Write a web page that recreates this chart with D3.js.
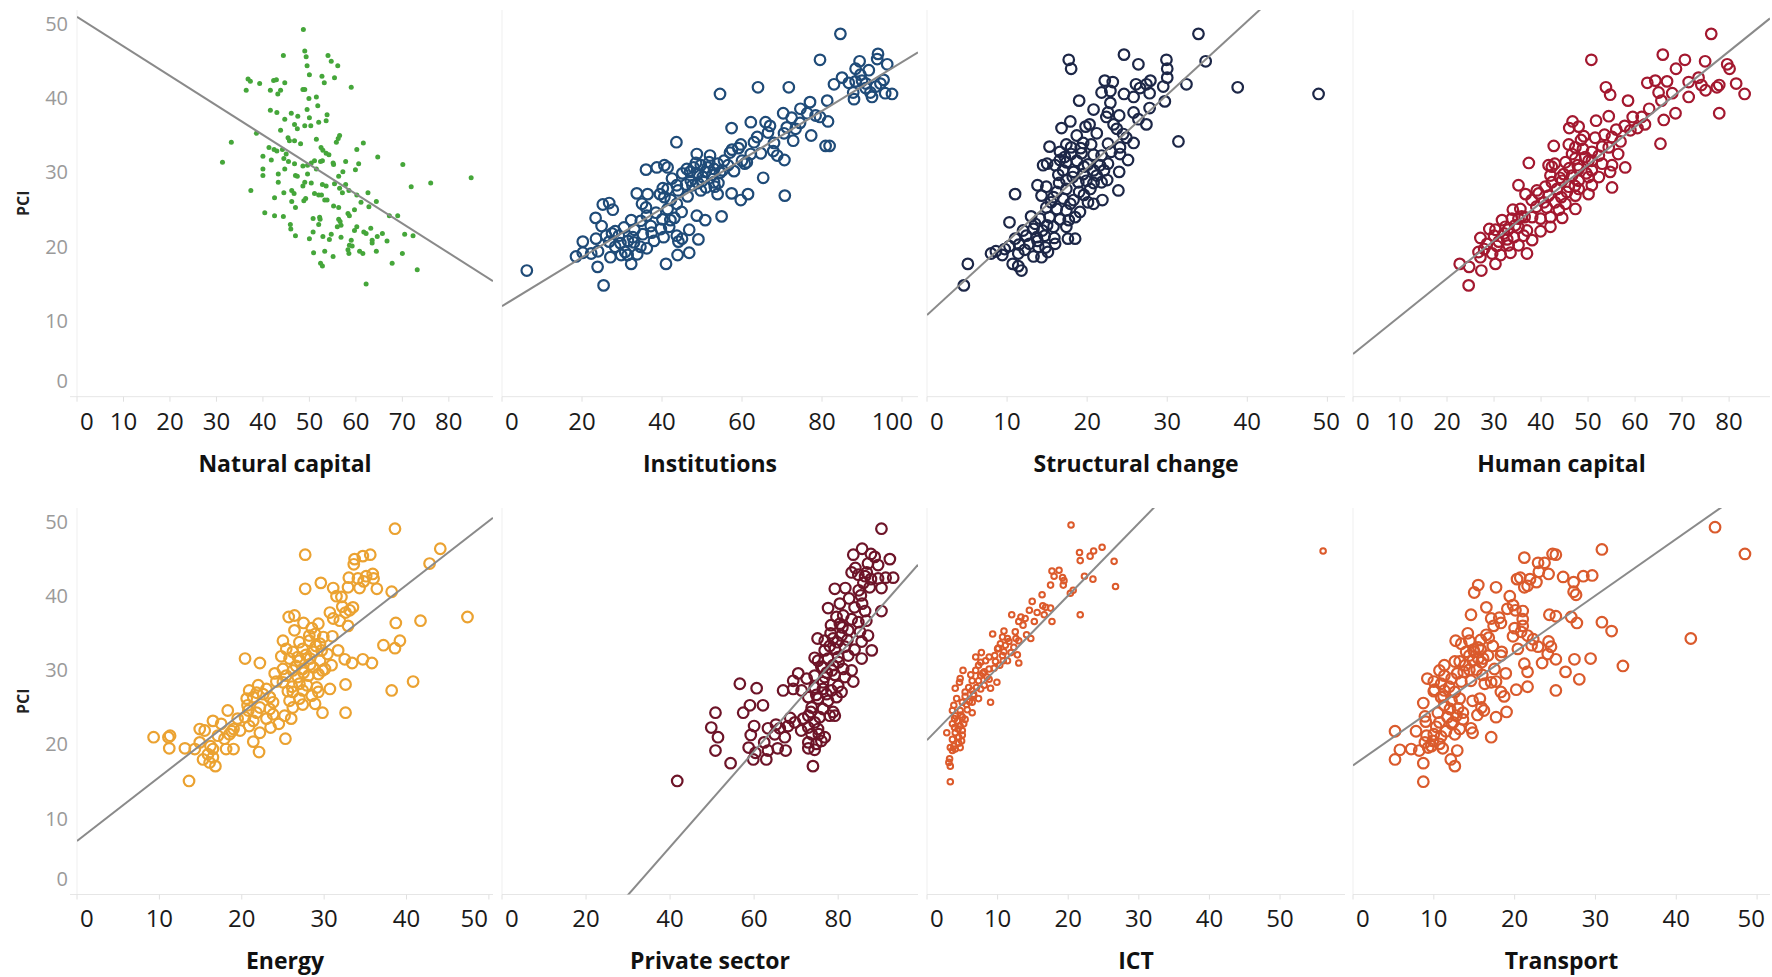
<!DOCTYPE html>
<html lang="en">
<head>
<meta charset="UTF-8">
<title>PCI vs pillars</title>
<style>
    body { margin: 0; background: #fff; }
    svg text { font-family: "Open Sans", "Noto Sans", sans-serif; }
</style>
<script src="https://d3js.org/d3.v7.min.js"></script>
</head>
<body>
<div id="chart"></div>
<script>
// ---- data (x = pillar score, y = PCI) ----
const panelNames = ["Natural capital", "Institutions", "Structural change", "Human capital",
                    "Energy", "Private sector", "ICT", "Transport"];
const xMax = [89.5, 104, 52.2, 88.7, 50.5, 99, 59.2, 51.6];
const xTicks = [
    [0, 10, 20, 30, 40, 50, 60, 70, 80],
    [0, 20, 40, 60, 80, 100],
    [0, 10, 20, 30, 40, 50],
    [0, 10, 20, 30, 40, 50, 60, 70, 80],
    [0, 10, 20, 30, 40, 50],
    [0, 20, 40, 60, 80],
    [0, 10, 20, 30, 40, 50],
    [0, 10, 20, 30, 40, 50]
];
const yTicks = [0, 10, 20, 30, 40, 50];
const trendSlope = [-0.398, 0.329, 0.99, 0.51, 0.863, 0.645, 0.975, 0.763];
const trendIntercept = [51.2, 12.2, 11.0, 5.75, 7.2, -19.4, 20.8, 17.4];

const naturalCapital = [[48.7,49.5],[49.0,46.6],[49.3,45.8],[44.4,46.0],[54.0,46.0],[54.7,45.2],[56.1,44.6],[49.5,44.6],[50.0,43.4],[52.7,43.2],[55.4,43.0],[59.0,41.7],[53.2,42.3],[36.8,42.8],[37.3,42.5],[39.3,42.2],[42.3,42.6],[42.9,42.7],[44.7,42.3],[36.4,41.3],[41.6,41.3],[43.8,41.3],[43.2,40.8],[48.6,41.4],[49.0,41.4],[51.5,40.4],[49.9,40.2],[51.8,39.2],[41.6,38.6],[43.0,38.3],[46.1,38.2],[47.5,37.8],[49.5,38.7],[50.0,37.6],[53.8,38.0],[53.6,37.2],[52.0,37.0],[44.7,37.4],[46.8,36.7],[47.4,36.1],[49.0,36.5],[50.3,36.5],[38.6,35.5],[43.8,35.9],[56.5,35.2],[56.2,34.8],[33.2,34.3],[45.4,34.9],[45.7,34.5],[46.8,34.5],[48.1,34.1],[51.5,34.7],[55.8,34.3],[61.6,34.2],[41.3,33.6],[42.4,33.3],[43.0,33.1],[44.2,33.3],[52.5,33.6],[52.9,33.2],[53.6,32.8],[54.2,32.6],[60.2,33.3],[40.0,32.4],[45.0,32.7],[64.7,32.3],[31.3,31.6],[41.8,31.9],[44.5,32.1],[45.5,31.7],[46.8,31.4],[50.4,31.5],[51.1,31.8],[52.4,31.7],[52.8,31.8],[55.1,31.5],[55.2,31.3],[57.8,31.7],[60.6,31.4],[70.1,31.3],[40.0,30.7],[44.7,30.7],[48.6,31.1],[49.6,31.2],[51.5,30.7],[57.2,30.3],[59.9,30.6],[40.0,29.8],[43.3,30.0],[47.0,29.8],[47.4,29.7],[49.6,30.0],[56.3,29.7],[84.8,29.5],[49.0,28.9],[43.3,28.9],[50.4,28.8],[48.6,28.4],[52.8,28.6],[53.6,28.4],[55.4,28.7],[57.8,28.6],[76.1,28.8],[71.9,28.3],[56.5,28.1],[58.5,27.8],[37.4,27.8],[44.5,27.5],[46.2,27.8],[46.7,27.4],[51.1,27.4],[52.0,27.2],[52.6,27.2],[57.1,27.5],[60.2,27.2],[62.6,27.5],[49.2,26.7],[53.3,26.5],[53.8,26.5],[48.8,26.4],[42.5,26.8],[46.2,26.3],[61.1,26.2],[64.4,26.3],[55.2,25.7],[56.3,25.5],[47.0,25.5],[62.8,25.6],[59.7,25.2],[40.4,24.8],[42.5,24.4],[44.4,24.3],[58.3,24.7],[58.6,24.4],[67.2,24.4],[69.0,24.4],[52.2,24.2],[52.3,23.9],[56.3,23.9],[56.6,23.6],[50.8,24.0],[52.0,23.2],[45.9,23.2],[46.0,22.6],[56.0,22.9],[56.8,23.1],[60.2,22.9],[63.2,22.7],[61.7,22.2],[59.7,22.4],[50.8,22.2],[62.2,22.0],[65.7,22.0],[70.5,21.9],[72.3,21.7],[47.0,21.7],[54.7,21.9],[52.9,21.6],[56.8,21.5],[64.6,21.6],[50.0,21.3],[54.3,21.2],[63.5,21.1],[59.0,21.1],[66.7,21.0],[63.5,20.7],[58.6,20.4],[59.2,20.3],[58.3,19.8],[58.5,19.3],[60.8,19.6],[61.5,19.3],[64.4,19.6],[50.9,19.4],[53.3,19.6],[55.1,18.9],[70.0,19.3],[52.4,18.0],[52.8,17.6],[67.8,18.0],[73.2,17.1],[62.2,15.2]];

const institutions = [[84.6,48.9],[94.0,46.2],[93.8,45.5],[79.5,45.4],[89.4,45.2],[96.3,44.8],[88.4,44.2],[91.7,44.0],[89.6,43.4],[85.0,43.0],[83.0,42.1],[86.7,42.3],[88.4,42.5],[90.0,42.6],[95.4,42.7],[94.6,42.2],[90.9,41.6],[92.1,41.0],[92.5,40.4],[87.8,41.0],[95.8,40.9],[97.5,40.8],[64.0,41.7],[71.7,41.7],[54.5,40.8],[81.3,39.9],[77.0,39.7],[74.6,38.8],[70.3,38.2],[76.3,38.2],[78.4,37.9],[79.5,37.7],[81.5,37.1],[72.4,37.6],[62.2,37.0],[65.9,37.0],[67.0,36.5],[71.2,36.3],[73.4,36.1],[57.4,36.2],[70.5,35.5],[77.3,35.2],[63.8,35.0],[72.8,34.5],[80.9,33.8],[81.9,33.8],[43.6,34.3],[59.7,34.0],[63.0,34.3],[59.1,33.5],[57.0,32.9],[62.2,32.7],[64.7,32.8],[67.8,33.1],[68.8,32.5],[70.6,31.9],[48.7,32.7],[52.0,32.5],[55.5,31.8],[60.7,31.4],[61.2,31.6],[36.0,30.6],[38.7,30.9],[40.6,31.2],[41.4,30.9],[46.2,30.7],[47.9,30.9],[49.7,31.2],[51.4,30.9],[53.0,30.7],[53.9,31.4],[45.1,30.1],[48.9,30.0],[50.9,30.3],[55.1,30.5],[65.3,29.5],[47.2,29.1],[50.1,29.1],[53.0,28.9],[47.6,28.5],[49.7,27.8],[53.2,28.3],[54.1,28.8],[41.4,28.0],[43.7,28.5],[33.7,27.4],[36.4,27.3],[39.5,27.3],[40.6,26.9],[42.2,26.5],[46.4,27.0],[53.9,27.3],[57.4,27.4],[61.5,27.3],[59.7,26.5],[70.7,27.1],[25.2,25.9],[26.8,26.1],[27.7,25.2],[23.4,24.1],[36.0,25.5],[41.4,25.3],[43.7,26.0],[36.2,24.4],[43.1,24.1],[48.7,24.4],[54.9,24.3],[50.8,23.8],[32.3,23.8],[34.7,23.7],[40.1,23.9],[42.1,23.8],[24.9,23.0],[37.2,23.0],[39.7,22.6],[33.1,22.5],[28.3,22.3],[26.0,21.7],[23.5,21.3],[20.2,20.9],[29.2,21.7],[32.7,21.5],[35.2,21.9],[37.4,22.1],[40.4,21.5],[43.7,21.7],[46.8,22.5],[45.0,21.3],[49.1,21.2],[44.1,20.9],[26.8,20.9],[28.3,20.2],[29.6,20.7],[34.6,20.2],[36.2,20.0],[30.8,19.5],[29.8,19.1],[31.4,19.1],[33.8,19.2],[22.3,19.3],[20.2,19.4],[18.5,18.9],[27.1,18.8],[32.3,17.9],[43.9,19.1],[46.8,19.4],[41.0,17.9],[23.9,17.5],[6.2,17.0],[25.4,15.0],
    [47.0,30.3],[48.5,31.5],[50.2,29.6],[51.8,31.6],[52.6,29.9],[54.5,30.2],[46.0,28.6],[49.0,28.8],[51.0,28.2],[44.0,27.8],[42.5,29.4],[40.2,28.1],[56.5,31.2],[58.0,30.4],[57.5,33.3],[60.0,31.8],[38.5,24.8],[35.0,26.0],[30.5,22.8],[31.5,21.0],[27.5,22.0],[24.0,19.6],[33.0,20.8],[38.0,21.0],[41.8,22.9],[44.9,24.9],[66.5,35.6],[68.0,34.2],[74.5,36.9],[88.0,40.1],[91.0,42.2],[93.5,41.8]];

const structuralChange = [[33.9,48.9],[24.6,46.1],[17.7,45.4],[18.0,44.2],[29.9,45.4],[30.0,44.2],[26.4,44.8],[34.8,45.2],[30.0,43.0],[29.5,41.8],[32.4,42.1],[38.8,41.7],[48.9,40.8],[22.2,42.6],[23.2,42.4],[21.8,41.0],[22.9,41.2],[24.6,40.8],[26.1,42.1],[26.6,41.6],[27.4,42.1],[27.9,42.6],[27.8,40.9],[25.8,40.4],[29.7,39.8],[19.0,39.9],[27.8,38.9],[25.8,38.3],[22.6,38.3],[24.0,37.9],[22.4,37.7],[26.4,37.4],[27.4,36.7],[17.9,37.1],[16.8,36.2],[19.8,36.4],[20.3,36.7],[23.3,36.7],[23.7,36.1],[18.7,35.2],[24.5,35.4],[24.9,34.9],[31.4,34.4],[15.3,33.7],[17.4,34.0],[19.5,34.2],[20.5,34.0],[22.6,34.1],[24.1,33.6],[16.6,33.0],[18.0,32.7],[19.3,32.8],[20.8,32.6],[21.8,32.5],[24.1,32.7],[25.1,31.9],[15.0,31.4],[16.0,31.2],[17.4,31.6],[18.7,31.8],[20.1,31.3],[21.6,31.2],[22.6,31.4],[24.0,30.3],[17.0,30.5],[18.3,30.3],[19.5,30.0],[20.8,30.5],[22.1,30.5],[17.4,29.2],[18.9,28.9],[19.9,29.1],[20.8,28.8],[21.8,28.9],[13.8,28.5],[14.9,28.3],[16.2,27.6],[17.4,28.0],[19.0,27.6],[20.4,28.0],[23.9,27.8],[11.0,27.3],[14.3,27.1],[15.8,26.9],[17.0,26.7],[18.3,26.5],[20.1,26.2],[21.9,26.5],[20.8,26.0],[14.9,25.5],[16.2,25.3],[17.4,25.1],[19.1,24.9],[13.0,24.3],[14.1,24.0],[15.3,24.2],[16.6,23.9],[17.7,23.8],[10.3,23.5],[12.0,22.4],[13.3,22.6],[14.4,22.4],[15.8,22.9],[17.4,22.9],[11.0,21.3],[12.4,21.7],[13.7,21.5],[14.7,21.7],[15.9,21.4],[17.6,21.3],[18.5,21.3],[12.8,20.6],[13.9,20.2],[8.6,19.6],[9.7,19.9],[10.3,20.3],[8.0,19.3],[9.4,19.1],[11.4,19.3],[13.3,18.9],[14.3,18.8],[15.1,19.5],[5.1,17.9],[10.7,17.9],[11.4,17.6],[11.8,17.0],[4.6,15.0],[16.6,31.9],[14.5,31.2],[18.0,33.6],
    [16.5,28.8],[18.2,29.6],[19.6,31.0],[21.2,29.8],[15.5,26.2],[17.9,26.0],[19.6,27.2],[13.5,23.3],[15.0,23.1],[16.0,20.6],[12.2,19.8],[14.8,20.1],[19.2,33.5],[21.2,35.5],[23.0,33.0],[25.8,34.2],[22.9,39.6],[20.8,38.7],[18.5,24.2],[17.2,32.3],[13.8,21.0],[11.5,20.5],[16.4,29.9],[22.5,29.2]];

const humanCapital = [[76.2,48.9],[65.9,46.1],[50.7,45.4],[70.6,45.4],[74.9,45.2],[68.7,44.2],[79.6,44.8],[80.1,44.2],[62.6,42.3],[64.3,42.6],[66.8,42.5],[71.4,42.4],[73.5,43.0],[74.1,42.0],[77.9,42.0],[81.5,42.2],[53.8,41.7],[54.7,40.7],[65.0,41.0],[67.9,40.9],[75.0,41.3],[77.4,41.7],[83.3,40.8],[58.5,39.9],[65.6,39.9],[71.4,40.4],[63.0,38.8],[68.6,38.2],[77.9,38.2],[51.7,37.2],[54.4,37.8],[59.5,37.7],[61.4,37.7],[66.1,37.3],[46.7,37.1],[46.0,36.2],[48.0,36.4],[57.8,36.5],[62.1,36.7],[59.0,35.9],[49.1,35.1],[55.1,35.0],[56.9,34.4],[65.4,34.1],[42.7,33.8],[45.9,34.0],[47.3,33.6],[53.0,33.7],[54.4,33.6],[56.4,32.7],[37.4,31.5],[41.6,31.2],[42.9,31.4],[45.2,31.6],[47.3,32.1],[49.4,32.3],[50.8,31.8],[53.0,31.4],[55.1,31.2],[57.9,30.9],[54.7,30.3],[48.0,30.7],[50.8,30.5],[44.8,30.0],[46.6,29.8],[42.3,28.9],[44.5,29.1],[48.0,29.1],[50.1,29.6],[35.2,28.5],[40.9,28.3],[43.4,28.0],[45.9,28.3],[48.0,28.0],[50.8,28.5],[55.1,28.2],[36.7,27.3],[39.5,27.4],[41.6,27.1],[44.3,26.9],[47.3,27.1],[50.1,27.3],[40.6,26.2],[43.0,26.2],[45.2,26.0],[47.3,25.3],[35.6,25.3],[38.1,24.2],[39.9,24.0],[42.0,24.2],[44.5,24.1],[31.7,23.8],[33.8,24.0],[35.9,24.3],[32.4,22.9],[34.5,23.1],[37.0,22.4],[39.9,22.3],[42.0,22.9],[27.1,21.4],[30.0,21.7],[32.1,22.0],[34.2,21.5],[36.3,21.7],[38.1,21.1],[28.5,20.6],[30.6,20.3],[33.1,20.4],[35.2,20.4],[26.7,19.5],[29.6,19.3],[31.4,19.1],[33.5,19.4],[37.0,19.3],[27.1,18.8],[22.7,17.9],[24.7,17.5],[30.3,17.9],[27.3,17.0],[24.6,15.0],[50.1,31.8],[52.3,32.5],[46.6,32.7],[48.9,33.4],[50.8,33.0],[42.3,31.0],[52.3,29.6],[39.1,27.8],[35.2,24.0],[30.3,22.5],
    [44.0,29.5],[46.0,30.8],[47.8,31.2],[49.6,30.1],[45.5,27.6],[43.8,25.2],[41.2,25.5],[39.0,25.6],[36.5,24.2],[33.0,22.5],[35.2,22.8],[31.0,20.9],[29.0,22.6],[34.0,25.2],[48.5,34.6],[51.5,34.9],[53.5,35.3],[56.0,36.0],[60.5,36.2],[47.2,28.4],[42.0,29.8],[38.0,26.5],[27.9,19.9],[32.8,21.2]];

const energy = [[38.6,49.3],[27.7,45.8],[44.1,46.6],[42.8,44.6],[33.7,45.2],[34.7,45.6],[35.6,45.8],[33.6,44.5],[33.0,42.7],[34.1,42.6],[35.1,42.9],[35.9,43.2],[36.0,42.6],[32.9,41.4],[34.3,41.3],[36.4,41.2],[29.6,42.0],[27.7,41.2],[31.1,41.3],[38.2,40.8],[31.5,40.2],[32.1,40.1],[33.5,38.7],[33.1,38.3],[32.6,38.0],[30.7,38.0],[31.1,37.2],[31.9,36.9],[32.9,36.2],[25.7,37.4],[26.4,37.6],[27.5,36.6],[38.7,36.6],[41.7,36.9],[47.4,37.4],[26.4,35.6],[28.5,35.9],[29.3,36.5],[28.9,35.1],[29.9,34.7],[25.0,34.2],[27.0,34.0],[28.2,34.2],[29.5,33.8],[37.2,33.6],[39.2,34.2],[38.6,33.2],[31.7,32.9],[25.4,33.1],[26.2,32.7],[27.4,33.1],[28.7,32.7],[29.7,32.9],[20.4,31.8],[22.2,31.2],[24.8,32.1],[25.8,31.8],[27.0,31.5],[28.3,31.8],[29.5,31.5],[30.9,30.9],[32.5,31.7],[33.4,31.2],[34.7,31.7],[35.8,31.2],[25.0,30.4],[26.2,30.2],[27.4,30.4],[28.7,30.6],[30.1,30.4],[25.4,29.5],[26.8,29.3],[28.1,29.5],[29.3,29.7],[27.0,28.4],[27.9,28.2],[29.1,27.9],[25.0,28.6],[32.6,28.3],[40.8,28.7],[30.7,27.7],[38.2,27.5],[26.2,27.3],[27.4,27.5],[29.3,27.3],[24.2,28.7],[23.0,27.7],[22.0,28.2],[20.9,27.5],[21.8,27.2],[21.4,26.6],[20.6,26.4],[23.4,26.6],[25.8,26.1],[27.0,26.4],[26.2,25.2],[28.9,25.7],[29.8,24.5],[32.6,24.5],[25.2,24.1],[26.0,23.7],[23.4,25.0],[23.8,24.3],[23.0,23.7],[20.8,24.8],[21.8,24.5],[20.4,23.9],[21.4,23.4],[18.3,24.8],[23.5,22.5],[24.5,23.0],[20.9,22.7],[19.8,22.1],[19.0,22.3],[17.5,23.0],[18.5,21.6],[16.5,23.4],[14.9,22.3],[15.5,22.1],[17.1,21.4],[21.4,20.6],[22.2,21.8],[22.1,19.2],[25.3,21.0],[18.1,19.6],[19.0,19.6],[14.9,20.5],[16.5,19.6],[15.9,18.9],[15.3,18.2],[16.1,17.8],[16.8,17.3],[16.5,18.5],[14.3,19.6],[13.1,19.7],[11.2,19.7],[11.1,21.2],[11.3,21.4],[9.3,21.2],[13.6,15.3],[23.8,25.9],[22.2,25.2],[28.2,34.9],[26.8,32.0],
    [27.5,29.9],[28.3,31.0],[26.6,30.8],[29.0,33.5],[27.8,32.3],[26.1,28.0],[28.5,26.8],[27.4,25.6],[25.6,27.4],[24.0,29.8],[29.8,30.2],[30.4,32.4],[31.0,34.8],[32.2,38.8],[34.8,42.2],[22.6,27.0],[20.7,25.5],[18.8,22.0],[17.9,21.0],[16.2,20.0],[19.5,23.7]];

const privateSector = [[90.3,49.3],[83.6,45.8],[85.7,46.6],[87.8,45.9],[88.7,45.5],[92.3,45.2],[87.1,44.6],[89.5,44.4],[83.2,43.4],[84.8,43.1],[86.4,42.9],[87.8,42.5],[89.5,42.6],[91.3,42.7],[93.1,42.7],[86.0,42.0],[87.5,41.4],[90.3,41.3],[79.2,41.2],[81.7,41.3],[84.9,41.0],[85.4,40.3],[80.4,39.2],[77.6,38.6],[83.9,38.7],[86.4,38.2],[90.3,38.2],[81.2,37.6],[79.6,37.4],[83.2,37.1],[78.3,36.3],[80.4,36.5],[84.8,36.7],[86.7,36.9],[82.4,35.6],[85.2,35.4],[87.1,34.9],[75.1,34.5],[76.8,34.2],[78.8,34.5],[80.8,34.9],[85.6,34.1],[88.0,32.9],[76.8,32.9],[79.2,33.1],[81.6,33.4],[75.2,31.5],[77.6,31.8],[80.0,32.0],[82.4,32.2],[85.6,31.8],[76.4,30.6],[78.8,30.9],[81.2,30.4],[83.2,30.2],[74.4,29.5],[76.8,29.3],[79.2,29.6],[81.6,29.3],[70.5,29.8],[72.5,29.1],[69.3,28.8],[83.6,28.7],[56.6,28.4],[60.6,27.8],[66.9,27.5],[69.3,27.7],[71.3,27.5],[74.4,27.9],[76.4,27.7],[78.4,27.5],[80.8,27.3],[72.9,26.6],[75.2,26.4],[77.6,26.1],[79.6,26.6],[59.0,25.5],[62.1,25.5],[57.4,24.5],[50.8,24.5],[73.7,25.2],[76.4,25.0],[78.8,24.6],[72.9,24.1],[75.6,23.9],[78.0,24.1],[79.2,24.1],[69.7,23.2],[68.1,22.7],[66.1,22.4],[49.8,22.5],[60.0,22.7],[63.3,22.4],[72.9,22.5],[75.2,22.3],[73.7,21.6],[76.8,21.2],[51.4,21.2],[59.2,21.5],[64.9,21.6],[67.3,21.2],[62.4,20.5],[72.9,20.5],[74.8,20.3],[76.0,20.7],[50.8,19.4],[58.7,19.8],[60.3,19.1],[63.3,19.4],[65.6,19.7],[67.5,19.4],[72.9,19.7],[74.4,19.5],[59.8,18.2],[62.9,18.2],[54.4,17.7],[74.0,17.3],[41.7,15.3],[74.4,31.9],[78.0,33.5],[76.4,28.6],[80.0,28.1],[71.7,23.7],[74.4,23.2],
    [78.5,30.2],[80.1,31.3],[77.3,29.9],[79.8,34.0],[82.2,34.3],[81.0,36.0],[83.9,33.0],[82.6,39.9],[85.7,39.2],[84.1,44.0],[77.2,27.0],[74.8,26.9],[73.5,24.6],[75.4,21.6],[71.2,22.1],[68.6,23.8],[65.2,22.9],[78.2,35.2],[76.0,30.7],[86.8,43.4]];

const ict = [[20.4,49.8],[56.1,46.3],[21.6,46.1],[24.8,46.8],[23.6,46.3],[23.1,45.6],[21.7,45.0],[26.5,44.9],[17.7,43.6],[18.7,43.7],[18.0,42.9],[19.2,42.7],[19.4,42.3],[19.3,41.7],[22.3,42.9],[23.5,42.5],[26.7,41.5],[17.5,41.7],[20.7,41.0],[20.3,40.6],[16.3,40.4],[14.9,39.5],[16.4,38.9],[16.8,38.7],[17.5,38.6],[14.5,38.3],[15.6,38.0],[16.6,37.7],[21.7,37.7],[12.0,37.7],[13.3,37.4],[13.9,37.2],[13.0,36.8],[17.7,36.8],[13.6,36.3],[9.3,35.1],[10.9,35.5],[14.1,35.0],[14.7,34.5],[10.7,34.7],[11.4,34.5],[12.6,34.5],[13.0,34.2],[10.4,33.8],[10.1,33.2],[12.3,33.3],[10.9,32.7],[12.8,32.3],[6.9,32.0],[7.7,32.6],[8.8,32.0],[9.6,32.2],[7.6,31.3],[8.3,31.5],[9.7,31.4],[10.8,31.5],[11.4,31.5],[13.0,31.2],[10.3,30.9],[6.9,30.2],[8.1,30.0],[8.8,30.4],[5.1,30.2],[6.2,29.6],[7.6,29.5],[8.5,29.3],[4.7,29.1],[4.6,28.6],[7.3,28.8],[9.9,28.6],[4.0,27.8],[5.9,27.9],[8.1,28.2],[9.0,27.8],[5.4,27.3],[6.4,27.5],[7.6,27.7],[6.6,26.8],[7.3,26.4],[6.4,25.9],[9.0,25.9],[5.0,25.9],[3.8,25.5],[3.6,24.8],[4.7,24.8],[5.7,24.9],[6.4,24.5],[4.0,24.1],[5.0,23.9],[4.3,23.4],[3.6,23.0],[4.7,22.7],[5.2,23.0],[2.8,21.8],[4.0,21.8],[5.0,22.1],[4.5,21.2],[3.6,20.9],[4.9,20.7],[3.3,19.8],[4.0,19.6],[4.7,19.8],[3.6,19.4],[3.2,18.3],[3.1,17.8],[3.3,17.3],[3.3,15.2],[10.0,33.1],[10.7,32.2],[7.3,30.9],[6.4,28.8],[5.4,26.7],[4.4,22.3],[3.8,20.0],[11.1,33.6],[11.6,34.1],
    [4.2,26.4],[5.6,25.6],[4.8,24.2],[5.4,23.6],[3.9,22.5],[4.5,20.4],[6.0,26.0],[7.0,27.9],[8.8,29.0],[9.5,30.5],[11.9,32.6],[12.5,35.4],[15.2,36.8],[7.9,29.8],[6.6,27.0],[5.0,21.5],[3.9,23.7]];

const transport = [[44.8,49.5],[48.5,45.9],[30.8,46.5],[21.2,45.4],[24.7,45.9],[25.1,45.8],[22.9,44.7],[23.7,44.7],[23.0,43.5],[24.2,43.2],[26.0,42.8],[28.5,42.9],[29.6,43.0],[20.3,42.5],[20.7,42.7],[21.9,42.5],[22.7,42.1],[27.3,42.1],[21.2,41.4],[21.6,41.6],[15.5,41.7],[17.7,41.4],[15.0,40.7],[27.3,40.8],[27.6,40.4],[19.4,40.2],[16.5,38.7],[19.8,39.0],[19.1,38.5],[20.1,38.3],[21.0,38.2],[14.6,37.7],[17.1,37.2],[18.1,37.3],[18.3,36.6],[21.0,37.1],[24.3,37.7],[25.1,37.5],[27.0,37.4],[27.7,36.6],[30.8,36.7],[32.0,35.5],[41.8,34.5],[17.4,36.2],[20.0,35.9],[20.8,35.4],[19.8,34.8],[21.6,34.9],[22.3,34.4],[22.1,33.6],[22.9,33.4],[24.2,34.1],[24.5,33.4],[24.1,32.4],[16.5,35.0],[16.8,34.6],[12.7,34.2],[13.4,33.8],[14.4,34.2],[15.5,33.3],[15.0,32.7],[15.8,33.0],[16.7,32.2],[18.4,32.7],[18.3,32.2],[14.4,32.2],[14.0,32.7],[10.7,30.2],[11.3,30.9],[12.6,31.4],[13.2,31.4],[14.8,31.5],[15.5,31.8],[13.7,30.0],[14.4,30.3],[15.3,30.3],[17.5,30.4],[21.2,31.1],[21.6,30.0],[23.4,31.2],[25.1,31.7],[27.4,31.7],[29.4,31.8],[33.4,30.8],[26.3,30.0],[9.2,29.1],[10.0,28.7],[10.9,28.4],[12.2,29.1],[13.4,28.7],[14.6,28.8],[16.3,28.4],[17.1,28.6],[17.7,28.7],[28.0,29.0],[21.6,28.0],[20.2,27.6],[25.1,27.5],[10.1,27.6],[11.3,27.5],[12.6,27.3],[18.3,27.3],[18.7,26.7],[10.9,26.6],[12.2,26.1],[13.2,26.4],[14.8,26.1],[15.7,26.4],[8.7,25.8],[11.3,25.5],[13.0,25.1],[15.9,25.2],[16.2,24.8],[15.4,24.2],[17.7,23.9],[19.0,24.6],[8.9,24.0],[10.5,24.5],[11.7,23.9],[12.8,24.1],[13.6,24.5],[10.7,23.2],[12.2,23.0],[13.2,22.3],[14.6,22.4],[14.8,21.8],[5.2,22.0],[7.8,22.0],[9.1,21.4],[10.0,21.6],[10.9,21.3],[12.6,21.6],[17.1,21.2],[8.9,20.5],[9.9,20.7],[10.7,20.3],[7.2,19.6],[8.2,19.4],[9.3,19.8],[5.8,19.5],[11.1,19.7],[12.9,19.4],[5.2,18.2],[8.7,17.7],[12.1,18.2],[12.6,17.3],[8.7,15.2],[10.0,27.4],[11.3,29.5],[15.9,31.3],[12.4,23.2],
    [14.9,33.0],[15.8,34.3],[16.1,31.8],[13.9,30.9],[12.9,29.8],[11.9,28.0],[11.2,26.7],[12.0,25.0],[13.6,23.6],[10.3,22.6],[9.7,20.0],[11.5,22.0],[16.0,29.6],[17.3,33.5],[14.2,35.2],[18.9,29.8],[20.4,33.1],[21.0,36.2],[9.0,23.3]];

const panelData = [naturalCapital, institutions, structuralChange, humanCapital,
                   energy, privateSector, ict, transport];

// ---- layout & styles ----
const W = 1772, H = 977;
const colLeft = [77, 502, 927, 1353];
const colWidth = [416, 416, 418, 417];
const rowY = [{ top: 10, base: 396.7, tickY: 424, titleY: 466 },
              { top: 508, base: 894.5, tickY: 921, titleY: 963 }];
const markStyle = [
    { r: 2.5, fill: "#45a63a", stroke: "none", sw: 0 },
    { r: 5.3, fill: "none", stroke: "#1f4b78", sw: 2.2 },
    { r: 5.3, fill: "none", stroke: "#1d2747", sw: 2.2 },
    { r: 5.3, fill: "none", stroke: "#a3182f", sw: 2.2 },
    { r: 5.3, fill: "none", stroke: "#eba231", sw: 2.2 },
    { r: 5.3, fill: "none", stroke: "#6d1428", sw: 2.2 },
    { r: 2.8, fill: "none", stroke: "#dc5a2b", sw: 2 },
    { r: 5.3, fill: "none", stroke: "#da5a2c", sw: 2.2 }
];

const svg = d3.select("#chart").append("svg")
    .attr("width", W)
    .attr("height", H);

panelData.forEach((data, i) => {
    const row = Math.floor(i / 4), col = i % 4;
    const R = rowY[row];
    const left = colLeft[col], right = left + colWidth[col];

    const x = d3.scaleLinear().domain([0, xMax[i]]).range([left, right]);
    // 7.42 px per PCI point in both rows
    const y = d3.scaleLinear().domain([0, (R.base - R.top) / 7.42]).range([R.base, R.top]);

    const g = svg.append("g");

    // light axis lines
    g.append("line")
        .attr("x1", left).attr("x2", left)
        .attr("y1", R.top).attr("y2", R.base)
        .attr("stroke", "#efefef").attr("stroke-width", 1);
    g.append("line")
        .attr("x1", col === 0 ? left - 7 : left).attr("x2", right)
        .attr("y1", R.base).attr("y2", R.base)
        .attr("stroke", "#e6e6e6").attr("stroke-width", 1);

    // x axis ticks + labels (kept inside the panel like Tableau does)
    const xt = g.selectAll(".xt").data(xTicks[i]).enter();
    xt.append("line")
        .attr("x1", d => x(d)).attr("x2", d => x(d))
        .attr("y1", R.base).attr("y2", R.base + 5)
        .attr("stroke", "#e0e0e0");
    xt.append("text")
        .attr("x", d => {
            const w = String(d).length * 13.7;
            let c = x(d);
            c = Math.max(c, left + 3 + w / 2);
            c = Math.min(c, right - 5 - w / 2);
            return c;
        })
        .attr("y", R.tickY)
        .attr("text-anchor", "middle")
        .attr("dominant-baseline", "middle")
        .attr("font-size", 24)
        .attr("fill", "#1a1a1a")
        .text(d => d);

    // y tick labels on first column only
    if (col === 0) {
        g.selectAll(".yt").data(yTicks).enter().append("text")
            .attr("x", 68)
            .attr("y", d => d === 0 ? y(d) - 14 : y(d))
            .attr("text-anchor", "end")
            .attr("dominant-baseline", "middle")
            .attr("font-size", 20)
            .attr("fill", "#9a9a9a")
            .text(d => d);
        g.append("text")
            .attr("transform", `translate(29,${(R.top + R.base) / 2}) rotate(-90)`)
            .attr("text-anchor", "middle")
            .attr("font-size", 16)
            .attr("font-weight", "bold")
            .attr("fill", "#222")
            .text("PCI");
    }

    // axis title
    g.append("text")
        .attr("x", (left + right) / 2)
        .attr("y", R.titleY)
        .attr("text-anchor", "middle")
        .attr("dominant-baseline", "middle")
        .attr("font-size", 23)
        .attr("font-weight", "bold")
        .attr("fill", "#111")
        .text(panelNames[i]);

    // clip for marks and trend line
    const clipId = "clip" + i;
    svg.append("clipPath").attr("id", clipId)
        .append("rect")
        .attr("x", left).attr("y", R.top)
        .attr("width", right - left).attr("height", R.base - R.top);

    const plot = g.append("g").attr("clip-path", `url(#${clipId})`);

    const st = markStyle[i];
    plot.selectAll("circle").data(data).enter().append("circle")
        .attr("cx", d => x(d[0]))
        .attr("cy", d => y(d[1]))
        .attr("r", st.r)
        .attr("fill", st.fill)
        .attr("stroke", st.stroke)
        .attr("stroke-width", st.sw);

    // trend line
    const x0 = 0, x1 = xMax[i];
    plot.append("line")
        .attr("x1", x(x0)).attr("y1", y(trendIntercept[i] + trendSlope[i] * x0))
        .attr("x2", x(x1)).attr("y2", y(trendIntercept[i] + trendSlope[i] * x1))
        .attr("stroke", "#8a8a8a")
        .attr("stroke-width", 2);
});
</script>
</body>
</html>
